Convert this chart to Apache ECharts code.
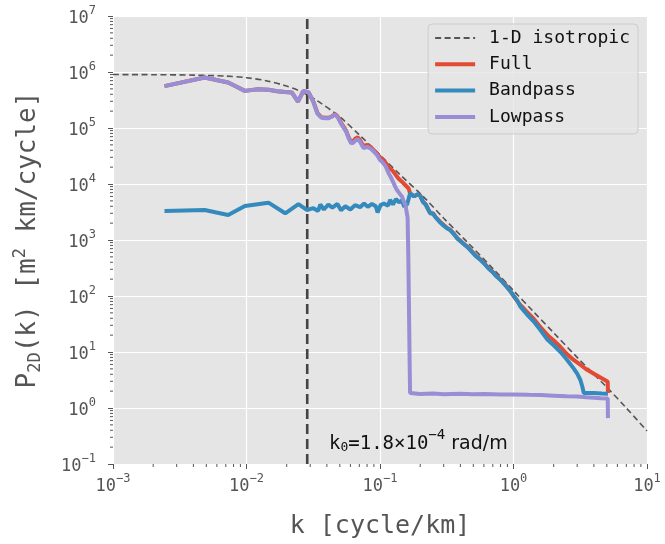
<!DOCTYPE html>
<html>
<head>
<meta charset="utf-8">
<script src="https://cdn.jsdelivr.net/npm/echarts@6/dist/echarts.min.js"></script>
<style>
  html, body { margin: 0; padding: 0; background: #fff; }
  #main { width: 665px; height: 544px; }
</style>
</head>
<body>
<div id="main"></div>
<script>
// wavenumber of the vertical reference line (cycle/km)
var k0 = 0.0285;

// 1-D isotropic model
var modelK = [0.001, 0.002, 0.004, 0.007, 0.01, 0.014, 0.019, 0.025, 0.0336, 0.05, 0.071, 0.1, 0.142, 0.212, 0.3, 0.448, 0.7, 1.0, 1.416, 2.0, 3.0, 4.0, 5.0, 7.0, 10];
var modelP = [9.0e5, 8.95e5, 8.8e5, 8.45e5, 7.9e5, 7.0e5, 5.8e5, 4.6e5, 3.1e5, 1.58e5, 7.3e4, 3.3e4, 1.45e4, 5.9e3, 2.45e3, 930, 310, 125, 52, 22, 8.0, 4.0, 2.35, 1.0, 0.39];

// Full
var fullK = [0.00243, 0.00486, 0.00729, 0.00972, 0.01215, 0.0146, 0.017, 0.0194, 0.0219, 0.0243, 0.0267, 0.0292, 0.0316, 0.034, 0.0365, 0.0389, 0.0413, 0.0437, 0.0462, 0.0486, 0.051, 0.0535, 0.0559, 0.0583, 0.0608, 0.0632, 0.0656, 0.068, 0.0705, 0.0729, 0.0753, 0.0778, 0.0802, 0.0826, 0.085, 0.09, 0.095, 0.1, 0.105, 0.11, 0.116, 0.12, 0.125, 0.13, 0.134, 0.14, 0.146, 0.15, 0.155, 0.16, 0.164, 0.168,
  0.18, 0.19, 0.2, 0.21, 0.22, 0.23, 0.238, 0.25, 0.26, 0.28, 0.3, 0.32, 0.336, 0.36, 0.38, 0.4, 0.43, 0.448, 0.48, 0.52, 0.56, 0.6, 0.65, 0.7, 0.75, 0.8, 0.87, 0.95, 1.0, 1.12, 1.25, 1.42, 1.59, 1.8, 2.0, 2.24, 2.5, 2.82, 3.2, 3.56, 4.0, 4.48, 4.8, 5.08, 5.1];
var fullP = [5.6e5, 8.0e5, 6.5e5, 4.6e5, 4.9e5, 4.8e5, 4.55e5, 4.4e5, 4.3e5, 2.95e5, 4.6e5, 4.3e5, 3.0e5, 1.85e5, 1.55e5, 1.52e5, 1.52e5, 1.62e5, 1.78e5, 1.55e5, 1.25e5, 1.05e5, 8.8e4, 6.8e4, 5.6e4, 5.9e4, 6.5e4, 6.8e4, 6.2e4, 5.4e4, 4.8e4, 4.8e4, 5.0e4, 4.9e4, 4.6e4, 4.0e4, 3.5e4, 3.0e4, 2.7e4, 2.4e4, 2.0e4, 1.85e4, 1.7e4, 1.5e4, 1.35e4, 1.2e4, 1.1e4, 1.05e4, 9.5e3, 9.0e3, 8.3e3, 6.8e3,
  6.0e3, 6.5e3, 6.2e3, 4.8e3, 4.3e3, 3.5e3, 3.0e3, 3.0e3, 2.6e3, 2.15e3, 1.85e3, 1.62e3, 1.52e3, 1.27e3, 1.08e3, 970, 830, 770, 650, 530, 460, 390, 315, 268, 225, 196, 158, 122, 100, 70, 53, 39, 28, 20, 16, 12.4, 9.3, 7.2, 5.8, 4.8, 4.1, 3.5, 3.2, 2.95, 1.85];

// Bandpass
var bandK = [0.00243, 0.00486, 0.00729, 0.00972, 0.0146, 0.0195, 0.0245, 0.0283, 0.0317, 0.0344, 0.0357, 0.038, 0.041, 0.044, 0.048, 0.051, 0.055, 0.06, 0.065, 0.071, 0.076, 0.081, 0.087, 0.093, 0.096, 0.101, 0.107, 0.115, 0.119, 0.125, 0.132, 0.139, 0.146, 0.152, 0.16, 0.168,
  0.18, 0.19, 0.2, 0.21, 0.22, 0.23, 0.238, 0.25, 0.26, 0.28, 0.3, 0.32, 0.336, 0.36, 0.38, 0.4, 0.43, 0.448, 0.48, 0.52, 0.56, 0.6, 0.65, 0.7, 0.75, 0.8, 0.87, 0.95, 1.06, 1.12, 1.25, 1.42, 1.59, 1.8, 2.0, 2.24, 2.5, 2.82, 3.0, 3.17, 3.28, 3.36, 4.0, 4.6, 5.1];
var bandP = [3.3e3, 3.43e3, 2.8e3, 4.05e3, 4.64e3, 3.0e3, 4.37e3, 3.44e3, 3.7e3, 3.3e3, 4.3e3, 3.5e3, 4.3e3, 3.8e3, 4.4e3, 3.4e3, 4.0e3, 3.5e3, 4.2e3, 3.85e3, 4.5e3, 3.9e3, 4.4e3, 4.0e3, 3.1e3, 4.2e3, 4.5e3, 4.1e3, 5.2e3, 4.3e3, 5.4e3, 4.7e3, 5.1e3, 3.9e3, 4.4e3, 6.8e3,
  6.0e3, 6.5e3, 6.2e3, 4.8e3, 4.3e3, 3.5e3, 3.0e3, 2.95e3, 2.55e3, 2.1e3, 1.8e3, 1.6e3, 1.5e3, 1.25e3, 1.05e3, 950, 820, 760, 640, 520, 450, 384, 310, 265, 220, 193, 155, 120, 85, 66, 48, 35, 24.7, 16.5, 13.2, 10.1, 7.4, 5.1, 4.1, 3.16, 2.4, 1.85, 1.85, 1.82, 1.8];

// Lowpass
var lowK = [0.00243, 0.00486, 0.00729, 0.00972, 0.01215, 0.0146, 0.017, 0.0194, 0.0219, 0.0243, 0.0267, 0.0292, 0.0316, 0.034, 0.0365, 0.0389, 0.0413, 0.0437, 0.0462, 0.0486, 0.051, 0.0535, 0.0559, 0.0583, 0.0608, 0.0632, 0.0656, 0.068, 0.0705, 0.0729, 0.0753, 0.0778, 0.0802, 0.0826, 0.085, 0.09, 0.095, 0.1, 0.105, 0.11, 0.116, 0.12, 0.125, 0.13, 0.134, 0.14, 0.146, 0.15, 0.155, 0.158, 0.161, 0.163, 0.165, 0.167, 0.168,
  0.2, 0.25, 0.3, 0.4, 0.5, 0.6, 0.8, 1.0, 1.3, 1.6, 2.0, 2.5, 3.0, 3.5, 4.0, 4.5, 5.08, 5.1];
var lowP = [5.6e5, 8.0e5, 6.5e5, 4.6e5, 4.9e5, 4.8e5, 4.55e5, 4.4e5, 4.3e5, 2.95e5, 4.6e5, 4.3e5, 3.0e5, 1.8e5, 1.52e5, 1.5e5, 1.5e5, 1.6e5, 1.75e5, 1.5e5, 1.2e5, 1.0e5, 8.5e4, 6.5e4, 5.3e4, 5.5e4, 6.0e4, 6.3e4, 5.8e4, 5.0e4, 4.4e4, 4.3e4, 4.6e4, 4.7e4, 4.3e4, 3.8e4, 3.3e4, 2.7e4, 2.4e4, 2.1e4, 1.55e4, 1.35e4, 1.1e4, 9.0e3, 7.8e3, 6.8e3, 6.0e3, 5.0e3, 4.3e3, 4.0e3, 2.5e3, 500, 50, 5, 1.85,
  1.78, 1.82, 1.76, 1.8, 1.76, 1.78, 1.74, 1.75, 1.72, 1.7, 1.66, 1.62, 1.6, 1.56, 1.53, 1.5, 1.48, 0.66];

// axis ranges
var kRange = [0.001, 10];
var pRange = [0.1, 1e7];

// minor tick positions
var minorX = [];
var minorY = [];
for (var d = -3; d < 1; d++) for (var m = 2; m < 10; m++) minorX.push(m * Math.pow(10, d));
for (var d2 = -1; d2 < 7; d2++) for (var m2 = 2; m2 < 10; m2++) minorY.push(m2 * Math.pow(10, d2));

function zip(a, b) { return a.map(function (v, i) { return [v, b[i]]; }); }

var mono = 'DejaVu Sans Mono';
var tickRich = {
  b: { fontFamily: mono, fontSize: 17, color: '#555', lineHeight: 22, verticalAlign: 'bottom' },
  s: { fontFamily: mono, fontSize: 12, color: '#555', lineHeight: 12, verticalAlign: 'top' }
};
function powLabel(v) {
  var e = Math.round(Math.log10(v));
  return '{b|10}{s|' + String(e).replace('-', '\u2212') + '}';
}

var dom = document.getElementById('main');
var myChart = echarts.init(dom);
var option = {
  animation: false,
  backgroundColor: '#fff',
  grid: { left: 113, right: 18, top: 16, bottom: 80, backgroundColor: '#E5E5E5', show: true, borderWidth: 0 },
  legend: {
    orient: 'vertical', right: 27, top: 24,
    padding: [4, 8, 7, 5], itemGap: 6.3, itemWidth: 40, itemHeight: 14,
    backgroundColor: 'rgba(229,229,229,0.8)', borderColor: '#ccc', borderWidth: 1, borderRadius: 4,
    itemStyle: { color: 'rgba(0,0,0,0)', borderWidth: 0, opacity: 0 },
    textStyle: { fontFamily: mono, fontSize: 18, lineHeight: 20, color: '#111', padding: [0, 0, 0, 9] },
    data: [
      { name: '1-D isotropic', lineStyle: { width: 1.8 } },
      { name: 'Full', lineStyle: { width: 4 } },
      { name: 'Bandpass', lineStyle: { width: 4 } },
      { name: 'Lowpass', lineStyle: { width: 4 } }
    ]
  },
  xAxis: {
    type: 'log', logBase: 10, min: kRange[0], max: kRange[1], splitNumber: 4,
    axisLine: { show: false },
    axisTick: { show: true, length: 5, lineStyle: { color: '#555' } },
    axisLabel: { margin: 9, formatter: powLabel, rich: tickRich },
    splitLine: { show: true, lineStyle: { color: '#fff', width: 1.2 } },
    name: 'k [cycle/km]', nameLocation: 'middle', nameGap: 50,
    nameTextStyle: { fontFamily: mono, fontSize: 25, color: '#555' }
  },
  yAxis: {
    type: 'log', logBase: 10, min: pRange[0], max: pRange[1], splitNumber: 8,
    axisLine: { show: false },
    axisTick: { show: true, length: 5, lineStyle: { color: '#555' } },
    axisLabel: { margin: 17, formatter: powLabel, rich: tickRich },
    splitLine: { show: true, lineStyle: { color: '#fff', width: 1.2 } },
    name: '{n|P}{sub|2D}{n|(k) [m}{sup|2}{n| km/cycle]}', nameLocation: 'middle', nameGap: 69, nameRotate: 90,
    nameTextStyle: {
      color: '#555',
      rich: {
        n: { fontFamily: mono, fontSize: 26, color: '#555', lineHeight: 32, verticalAlign: 'middle' },
        sub: { fontFamily: mono, fontSize: 17, color: '#555', lineHeight: 14, verticalAlign: 'bottom' },
        sup: { fontFamily: mono, fontSize: 17, color: '#555', lineHeight: 14, verticalAlign: 'top' }
      }
    }
  },
  graphic: [{
    type: 'text', left: 329, top: 428, z: 100,
    style: {
      rich: {
        m: { fontFamily: mono, fontSize: 19, fill: '#111', lineHeight: 26, verticalAlign: 'bottom' },
        sub: { fontFamily: mono, fontSize: 13, fill: '#111', lineHeight: 13, verticalAlign: 'bottom' },
        sup: { fontFamily: mono, fontSize: 14, fill: '#111', lineHeight: 14, verticalAlign: 'top' },
        r: { fontFamily: 'DejaVu Sans', fontSize: 19, fill: '#111', lineHeight: 26, verticalAlign: 'bottom' }
      },
      text: '{m|k}{sub|0}{m|=1.8\u00d710}{sup|\u22124}{r| rad/m}'
    }
  }],
  series: [
    {
      name: '1-D isotropic', type: 'line', data: zip(modelK, modelP), showSymbol: false, symbol: 'none',
      smooth: 0.3, color: '#555',
      lineStyle: { color: '#555', width: 1.6, type: [6, 3.5] },
      z: 2
    },
    {
      type: 'line', data: [[k0, pRange[0]], [k0, pRange[1]]], showSymbol: false, symbol: 'none', silent: true,
      lineStyle: { color: '#444', width: 2.6, type: [10, 5] }, z: 2
    },
    { name: 'Full', type: 'line', data: zip(fullK, fullP), showSymbol: false, symbol: 'none', color: '#E24A33', lineStyle: { color: '#E24A33', width: 4 }, z: 3 },
    { name: 'Bandpass', type: 'line', data: zip(bandK, bandP), showSymbol: false, symbol: 'none', color: '#348ABD', lineStyle: { color: '#348ABD', width: 4 }, z: 4 },
    { name: 'Lowpass', type: 'line', data: zip(lowK, lowP), showSymbol: false, symbol: 'none', color: '#988ED5', lineStyle: { color: '#988ED5', width: 4 }, z: 5 },
    {
      type: 'custom', silent: true, clip: false, z: 1,
      data: minorX.map(function (k) { return [k, pRange[0]]; }),
      renderItem: function (params, api) {
        var p = api.coord([api.value(0), api.value(1)]);
        return { type: 'line', shape: { x1: p[0], y1: p[1], x2: p[0], y2: p[1] + 3 }, style: { stroke: '#555', lineWidth: 1 } };
      }
    },
    {
      type: 'custom', silent: true, clip: false, z: 1,
      data: minorY.map(function (v) { return [kRange[0], v]; }),
      renderItem: function (params, api) {
        var p = api.coord([api.value(0), api.value(1)]);
        return { type: 'line', shape: { x1: p[0] - 3, y1: p[1], x2: p[0], y2: p[1] }, style: { stroke: '#555', lineWidth: 1 } };
      }
    }
  ]
};

if (option && typeof option === 'object') {
  myChart.setOption(option);
}

window.onresize = function () {
  myChart.resize();
};
</script>
</body>
</html>
